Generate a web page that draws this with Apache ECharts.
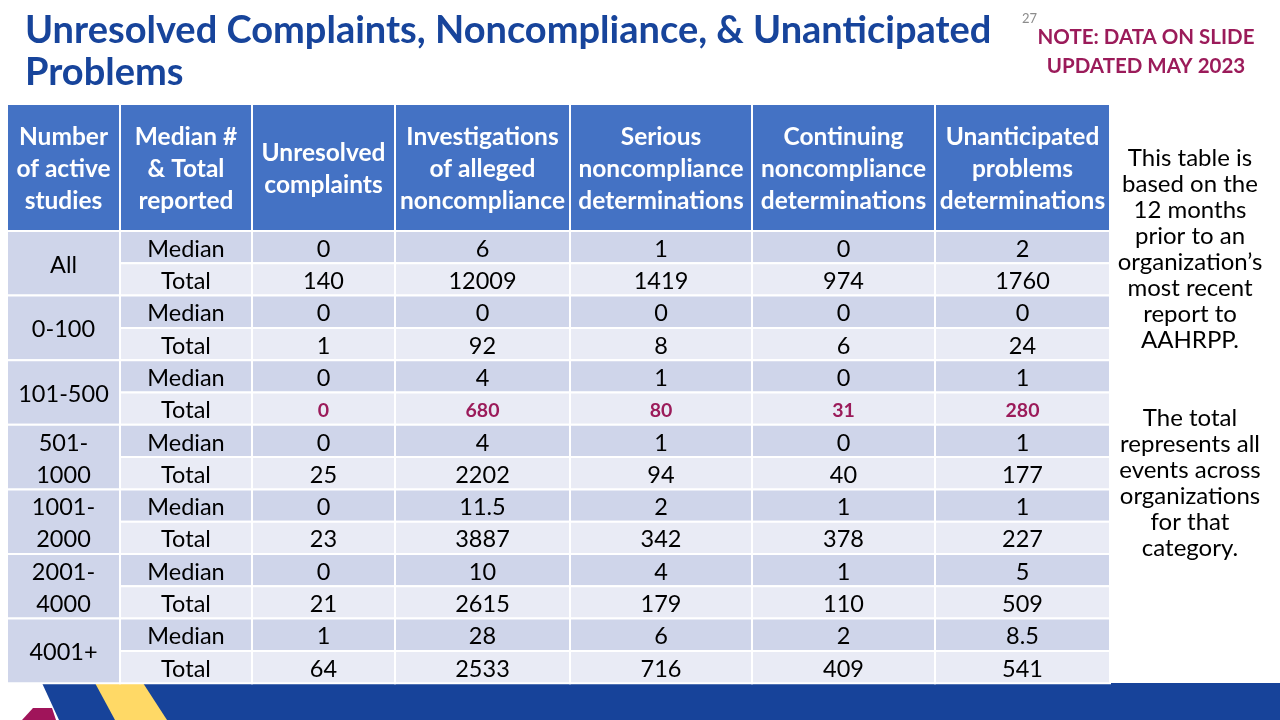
<!DOCTYPE html>
<html><head><meta charset="utf-8">
<script src="https://cdn.jsdelivr.net/npm/echarts@6/dist/echarts.min.js"></script>
<style>html,body{margin:0;padding:0;background:#fff}#c{width:1280px;height:720px}</style>
</head><body><div id="c"></div>
<script>
// ---- data ----
const headers = ["Number\nof active\nstudies", "Median #\n& Total\nreported", "Unresolved\ncomplaints", "Investigations\nof alleged\nnoncompliance", "Serious\nnoncompliance\ndeterminations", "Continuing\nnoncompliance\ndeterminations", "Unanticipated\nproblems\ndeterminations"];
const groups = ["All", "0-100", "101-500", "501-\n1000", "1001-\n2000", "2001-\n4000", "4001+"];
const measures = ["Median", "Total"];
const unresolved     = [0, 140, 0, 1, 0, 0, 0, 25, 0, 23, 0, 21, 1, 64];
const investigations = [6, 12009, 0, 92, 4, 680, 4, 2202, 11.5, 3887, 10, 2615, 28, 2533];
const serious        = [1, 1419, 0, 8, 1, 80, 1, 94, 2, 342, 4, 179, 6, 716];
const continuing     = [0, 974, 0, 6, 0, 31, 0, 40, 1, 378, 1, 110, 2, 409];
const unanticipated  = [2, 1760, 0, 24, 1, 280, 1, 177, 1, 227, 5, 509, 8.5, 541];
const highlightRow = 5; // "101-500" Total row, shown in bold magenta

// ---- layout (not data) ----
const colEdges = [0, 113, 245, 388, 563, 745, 928, 1103];
const headerH = 127, rowH = 32.3, nRows = 14;
const TABLE_W = 1103, TABLE_H = headerH + rowH * nRows;
function rowTop(r) { return r < 0 ? 0 : headerH + r * rowH; }
function rowBottom(r) { return r < 0 ? headerH : headerH + (r + 1) * rowH; }

const valueCols = [unresolved, investigations, serious, continuing, unanticipated];
const cells = [];
// [col, row, span, text, kind]
headers.forEach((h, c) => cells.push([c, -1, 1, h, 'head']));
groups.forEach((g, gi) => cells.push([0, gi * 2, 2, g, 'group']));
for (let r = 0; r < nRows; r++) {
  cells.push([1, r, 1, measures[r % 2], r % 2 ? 'light' : 'dark']);
  valueCols.forEach((arr, k) => cells.push([k + 2, r, 1, String(arr[r]), (r % 2 ? 'light' : 'dark') + (r === highlightRow ? 'H' : '')]));
}

const FONT = 'Lato, "Liberation Sans", sans-serif';
const chart = echarts.init(document.getElementById('c'));
chart.setOption({
  animation: false,
  grid: { left: 7, top: 104, width: TABLE_W, height: TABLE_H },
  xAxis: { type: 'value', min: 0, max: TABLE_W, show: false },
  yAxis: { type: 'value', min: 0, max: TABLE_H, inverse: true, show: false },
  series: [{
    type: 'custom',
    data: cells,
    encode: { x: 0, y: 1 },
    renderItem: function (params, api) {
      const c = api.value(0), r = api.value(1), span = api.value(2);
      const kind = cells[params.dataIndex][4];
      const text = cells[params.dataIndex][3];
      const p0 = api.coord([colEdges[c], rowTop(r)]);
      const p1 = api.coord([colEdges[c + 1], rowBottom(r + span - 1)]);
      let fill = '#E9EBF5', color = '#000', weight = 'normal', size = 23.5;
      if (kind === 'head') { fill = '#4472C4'; color = '#fff'; weight = 'bold'; size = 24.5; }
      else if (kind === 'group' || kind.indexOf('dark') === 0) fill = '#CFD5EA';
      if (kind.endsWith('H')) { color = '#9B1B5A'; weight = 'bold'; size = 19.5; }
      return {
        type: 'group',
        children: [{
          type: 'rect',
          shape: { x: p0[0], y: p0[1], width: p1[0] - p0[0], height: p1[1] - p0[1] },
          style: { fill: fill, stroke: '#fff', lineWidth: 2 }
        }, {
          type: 'text',
          x: (p0[0] + p1[0]) / 2, y: (p0[1] + p1[1]) / 2 + 2,
          style: {
            text: text, fill: color, fontFamily: FONT, fontWeight: weight,
            fontSize: size, lineHeight: 32, align: 'center', verticalAlign: 'middle'
          }
        }]
      };
    }
  }],
  graphic: [
    { type: 'text', left: 25, top: 10, style: { text: 'Unresolved Complaints, Noncompliance, & Unanticipated\nProblems', fill: '#17449B', fontFamily: FONT, fontWeight: 'bold', fontSize: 38, lineHeight: 42 } },
    { type: 'text', left: 1022, top: 12, style: { text: '27', fill: '#8C8C8C', fontFamily: FONT, fontSize: 13 } },
    { type: 'text', x: 1146, y: 23, style: { text: 'NOTE: DATA ON SLIDE\nUPDATED MAY 2023', fill: '#9B1B5A', fontFamily: FONT, fontWeight: 'bold', fontSize: 20.5, lineHeight: 29, align: 'center' } },
    { type: 'text', x: 1190, y: 145, style: { text: 'This table is\nbased on the\n12 months\nprior to an\norganization\u2019s\nmost recent\nreport to\nAAHRPP.\n\n\nThe total\nrepresents all\nevents across\norganizations\nfor that\ncategory.', fill: '#000', fontFamily: FONT, fontSize: 24, lineHeight: 26, align: 'center' } },
    // bottom band decoration
    { type: 'polygon', shape: { points: [[42, 683], [1280, 683], [1280, 720], [59, 720]] }, style: { fill: '#17439A' } },
    { type: 'polygon', shape: { points: [[95, 683], [143, 683], [167, 720], [115, 720]] }, style: { fill: '#FFD966' } },
    { type: 'polygon', shape: { points: [[33, 708], [52, 708], [56, 720], [22, 720]] }, style: { fill: '#A0145A' } }
  ]
});
</script></body></html>
